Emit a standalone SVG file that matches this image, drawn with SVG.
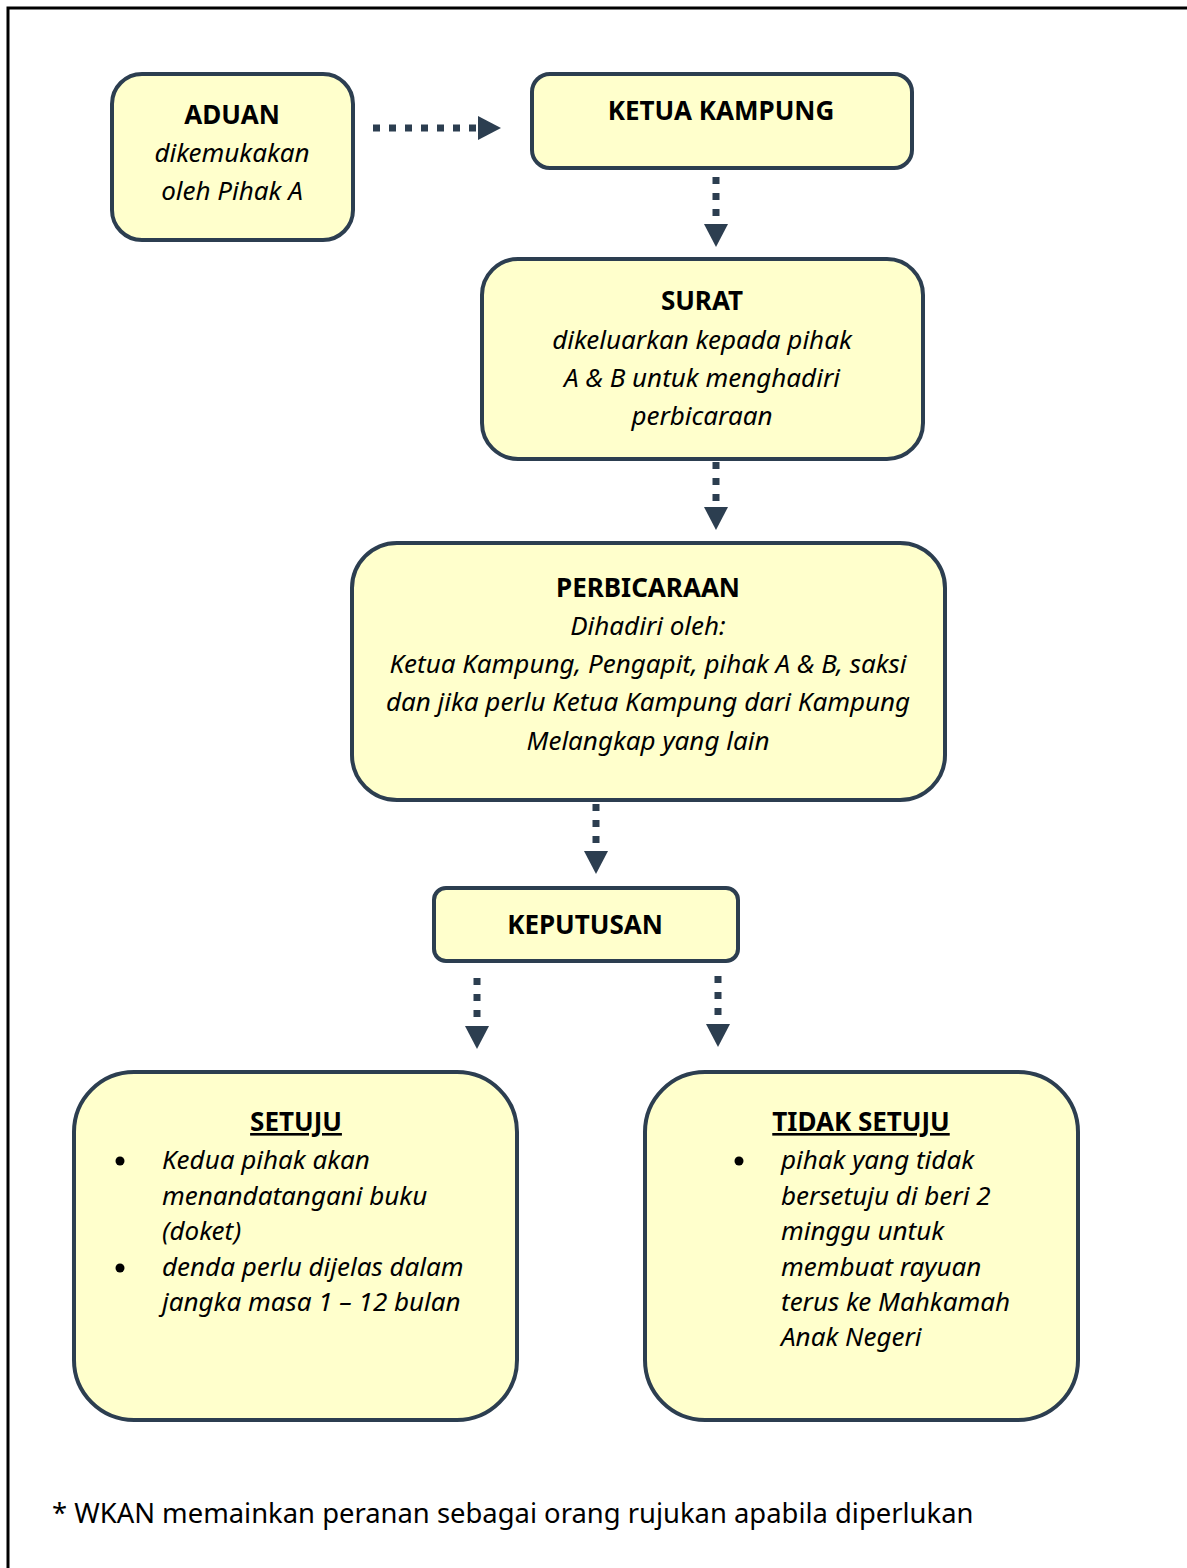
<svg xmlns="http://www.w3.org/2000/svg" width="1187" height="1568" viewBox="0 0 1187 1568">
<style>
.box{fill:#ffffcc;stroke:#2c3e50;stroke-width:4}
.t{font-family:"Noto Sans","Open Sans","DejaVu Sans",sans-serif;font-size:26px;fill:#000}
.b{font-weight:bold}
.i{font-style:italic}
.c{text-anchor:middle}
.u{text-decoration:underline}
.dash{stroke:#2c3e50;stroke-width:7;stroke-dasharray:7 9;fill:none}
</style>
<defs>
<marker id="ah" markerUnits="userSpaceOnUse" markerWidth="26" markerHeight="26" refX="0" refY="12" orient="auto">
<path d="M0,0 L23,12 L0,24 Z" fill="#2c3e50"/>
</marker>
</defs>
<rect x="0" y="0" width="1187" height="1568" fill="#fff"/>
<rect x="8" y="8" width="1190" height="1580" fill="none" stroke="#000" stroke-width="3"/>

<g id="connectors">
<line class="dash" x1="373" y1="128" x2="478" y2="128" marker-end="url(#ah)"/>
<line class="dash" x1="716" y1="177" x2="716" y2="224" marker-end="url(#ah)"/>
<line class="dash" x1="716" y1="462" x2="716" y2="507" marker-end="url(#ah)"/>
<line class="dash" x1="596" y1="804" x2="596" y2="851" marker-end="url(#ah)"/>
<line class="dash" x1="477" y1="978" x2="477" y2="1026" marker-end="url(#ah)"/>
<line class="dash" x1="718" y1="976" x2="718" y2="1024" marker-end="url(#ah)"/>
</g>

<g id="aduan">
<rect class="box" x="112" y="74" width="241" height="166" rx="30"/>
<text class="t b c" x="232" y="124">ADUAN</text>
<text class="t i c" x="232" y="162">dikemukakan</text>
<text class="t i c" x="232" y="200">oleh Pihak A</text>
</g>

<g id="ketua">
<rect class="box" x="532" y="74" width="380" height="94" rx="18"/>
<text class="t b c" x="721" y="120">KETUA KAMPUNG</text>
</g>

<g id="surat">
<rect class="box" x="482" y="259" width="441" height="200" rx="36"/>
<text class="t b c" x="702" y="310">SURAT</text>
<text class="t i c" x="702" y="349">dikeluarkan kepada pihak</text>
<text class="t i c" x="702" y="387">A &amp; B untuk menghadiri</text>
<text class="t i c" x="702" y="425">perbicaraan</text>
</g>

<g id="perbicaraan">
<rect class="box" x="352" y="543" width="593" height="257" rx="45"/>
<text class="t b c" x="648" y="597">PERBICARAAN</text>
<text class="t i c" x="648" y="635">Dihadiri oleh:</text>
<text class="t i c" x="648" y="673">Ketua Kampung, Pengapit, pihak A &amp; B, saksi</text>
<text class="t i c" x="648" y="711">dan jika perlu Ketua Kampung dari Kampung</text>
<text class="t i c" x="648" y="750">Melangkap yang lain</text>
</g>

<g id="keputusan">
<rect class="box" x="434" y="888" width="304" height="73" rx="12"/>
<text class="t b c" x="585" y="934">KEPUTUSAN</text>
</g>

<g id="setuju">
<rect class="box" x="74" y="1072" width="443" height="348" rx="60"/>
<text class="t b c u" x="296" y="1131">SETUJU</text>
<circle cx="120" cy="1161" r="4.5" fill="#000"/>
<circle cx="120" cy="1268" r="4.5" fill="#000"/>
<text class="t i" x="162" y="1169">Kedua pihak akan</text>
<text class="t i" x="162" y="1205">menandatangani buku</text>
<text class="t i" x="162" y="1240">(doket)</text>
<text class="t i" x="162" y="1276">denda perlu dijelas dalam</text>
<text class="t i" x="162" y="1311">jangka masa 1 – 12 bulan</text>
</g>

<g id="tidak-setuju">
<rect class="box" x="645" y="1072" width="433" height="348" rx="60"/>
<text class="t b c u" x="861" y="1131">TIDAK SETUJU</text>
<circle cx="739" cy="1161" r="4.5" fill="#000"/>
<text class="t i" x="781" y="1169">pihak yang tidak</text>
<text class="t i" x="781" y="1205">bersetuju di beri 2</text>
<text class="t i" x="781" y="1240">minggu untuk</text>
<text class="t i" x="781" y="1276">membuat rayuan</text>
<text class="t i" x="781" y="1311">terus ke Mahkamah</text>
<text class="t i" x="781" y="1346">Anak Negeri</text>
</g>

<text class="t" x="52" y="1523" style="font-size:27.4px">* WKAN memainkan peranan sebagai orang rujukan apabila diperlukan</text>
</svg>
